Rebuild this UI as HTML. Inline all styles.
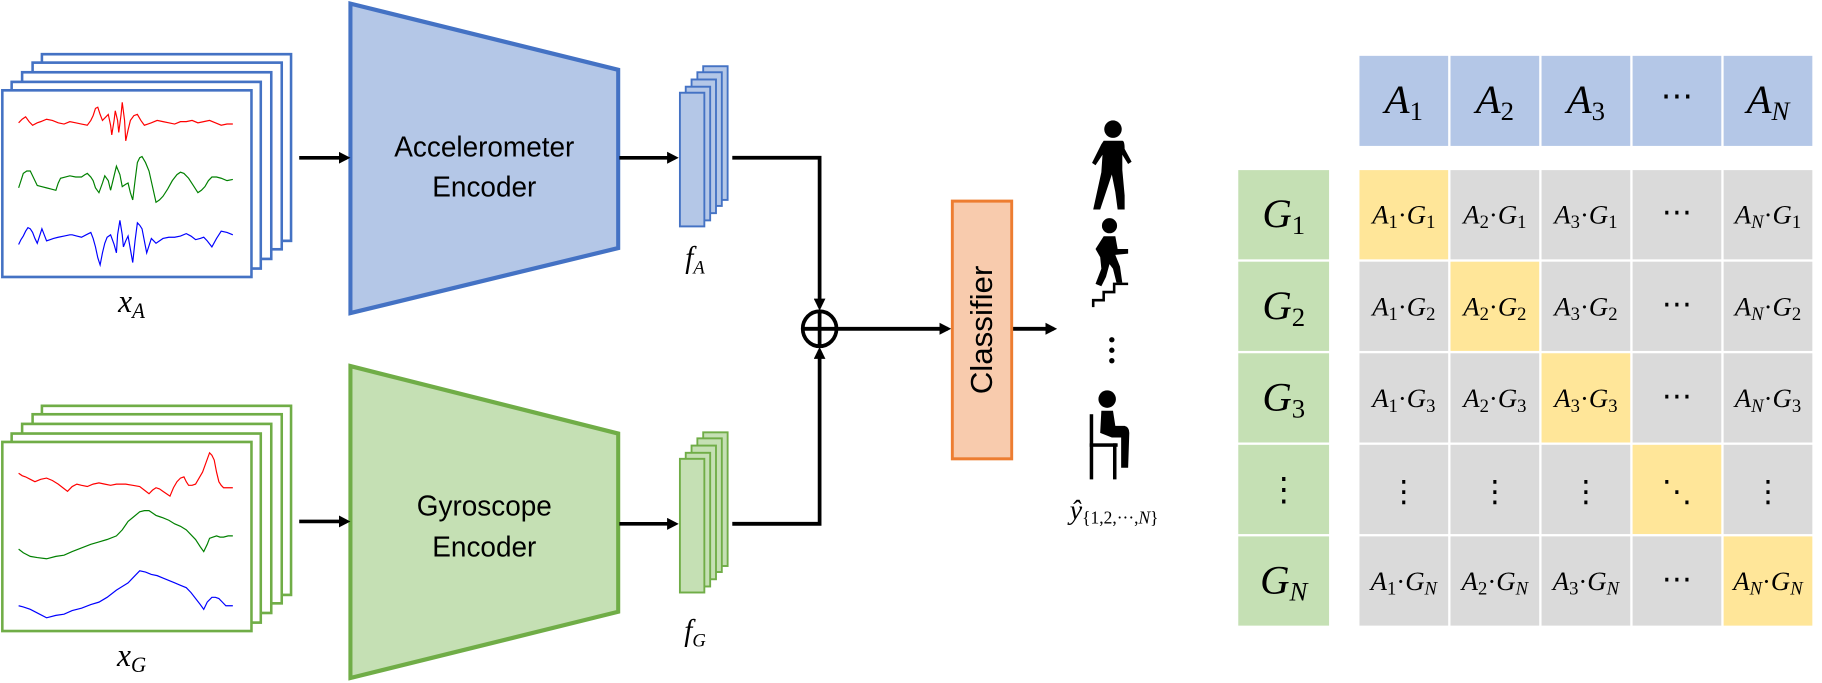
<!DOCTYPE html>
<html><head><meta charset="utf-8"><style>
html,body{margin:0;padding:0;background:#fff;}
svg{display:block;}
.m{font-family:"Liberation Serif",serif;font-style:italic;}
.s{font-family:"Liberation Sans",sans-serif;}
</style></head><body>
<svg width="1822" height="683" viewBox="0 0 1565 587" preserveAspectRatio="none" xmlns="http://www.w3.org/2000/svg">
<defs>
<marker id="ah" markerWidth="10" markerHeight="10" refX="7" refY="5" orient="auto" markerUnits="userSpaceOnUse">
<path d="M0,0 L10,5 L0,10 z" fill="#000"/></marker>
</defs>
<g transform="scale(1,1.035)">
<!-- accel frames -->
<g fill="#fff" stroke="#4472C4" stroke-width="2.2">
<rect x="36" y="45" width="214" height="155"/>
<rect x="28" y="52" width="214" height="155"/>
<rect x="19" y="60" width="214" height="155"/>
<rect x="10" y="68" width="214" height="155"/>
<rect x="2" y="75" width="214" height="155"/>
</g>
<g fill="none" stroke-width="1">
<polyline stroke="#ff0000" points="16,102 19,99 22,97 25,101 28,104 32,102 35,101 40,99 45,100 50,102 55,103 60,101 65,102 70,103 75,104 78,100 80,96 82,90 84,89 86,95 88,100 90,98 93,95 95,104 96,112 98,100 99,92 101,100 102,110 104,95 105,85 107,100 108,117 110,108 112,100 115,96 118,95 121,100 124,104 127,103 130,102 135,100 140,101 145,102 150,103 155,101 160,101 165,100 170,102 175,101 180,100 185,102 190,104 195,103 200,103"/>
<polyline stroke="#008000" points="16,156 18,150 20,144 23,142 26,142 29,148 32,154 36,155 40,156 44,157 48,158 50,152 52,148 56,147 60,146 65,147 70,147 73,145 75,144 78,147 80,150 82,156 85,160 88,152 90,146 93,150 95,158 98,146 100,138 103,145 105,155 108,153 110,152 112,160 114,166 116,150 118,135 120,131 122,130 125,135 128,142 131,155 134,168 137,166 140,163 144,157 148,150 152,145 155,143 158,144 162,148 166,154 170,160 173,158 176,155 179,150 182,147 186,147 190,148 195,150 200,149"/>
<polyline stroke="#0000ff" points="16,203 18,199 20,196 22,192 24,189 26,190 28,193 30,198 32,202 34,196 36,190 38,195 40,200 43,199 46,198 50,197 55,196 60,195 62,195 66,196 70,197 74,195 78,193 80,198 82,205 84,214 86,220 88,210 90,202 92,197 95,195 98,203 100,210 101,195 103,183 105,195 106,205 108,200 110,196 112,207 114,218 116,200 118,185 120,187 122,190 124,200 126,210 128,204 130,198 132,200 134,202 137,200 140,198 145,197 150,197 155,196 160,194 164,196 168,199 172,198 175,197 178,200 182,205 186,198 190,192 195,193 200,195"/>
</g>
<text class="m" x="113" y="259" font-size="27" text-anchor="middle">x<tspan font-size="18" dy="5">A</tspan></text>
<!-- gyro frames -->
<g fill="#fff" stroke="#70AD47" stroke-width="2.2">
<rect x="36" y="337" width="214" height="157"/>
<rect x="28" y="344" width="214" height="157"/>
<rect x="19" y="352" width="214" height="157"/>
<rect x="10" y="360" width="214" height="157"/>
<rect x="2" y="367" width="214" height="157"/>
</g>
<g fill="none" stroke-width="1">
<polyline stroke="#ff0000" points="16,393 19,395 22,396 26,398 30,400 35,398 40,397 45,399 50,402 54,405 58,408 62,404 66,402 70,403 75,404 80,402 85,401 90,402 95,403 100,402 108,402 114,403 120,404 124,407 128,410 131,407 134,405 137,406 140,408 143,410 146,412 149,405 152,400 155,397 158,396 160,400 162,403 165,403 168,402 171,397 174,392 177,384 180,376 182,378 184,382 186,392 188,400 190,403 192,405 196,405 200,405"/>
<polyline stroke="#008000" points="16,456 20,459 26,462 32,463 40,464 48,462 55,461 62,458 70,455 78,452 85,450 92,448 100,445 105,440 110,433 115,429 120,425 124,424 128,424 131,426 134,428 137,429 140,430 145,432 150,435 155,437 160,440 164,444 168,448 172,454 175,458 178,452 180,447 183,446 186,445 189,446 192,446 196,445 200,445"/>
<polyline stroke="#0000ff" points="16,503 20,504 26,506 32,509 40,513 48,511 55,510 62,507 70,505 78,502 85,500 92,496 100,490 105,487 110,484 115,479 120,474 125,475 130,477 135,478 140,480 145,482 150,484 155,486 160,488 164,492 168,497 172,502 175,506 178,500 182,496 185,496 188,497 191,500 194,503 197,503 200,503"/>
</g>
<text class="m" x="113" y="553" font-size="27" text-anchor="middle">x<tspan font-size="18" dy="5">G</tspan></text>
<!-- encoders -->
<polygon points="301,3 531,58 531,206 301,260" fill="#B4C7E7" stroke="#4472C4" stroke-width="3.5"/>
<text class="s" x="416" y="130" font-size="24" text-anchor="middle">Accelerometer</text>
<text class="s" x="416" y="163" font-size="24" text-anchor="middle">Encoder</text>
<polygon points="301,304 531,360 531,508 301,563" fill="#C5E0B4" stroke="#70AD47" stroke-width="3.5"/>
<text class="s" x="416" y="428" font-size="24" text-anchor="middle">Gyroscope</text>
<text class="s" x="416" y="462" font-size="24" text-anchor="middle">Encoder</text>
<!-- arrows in -->
<g stroke="#000" stroke-width="3" fill="none">
<line x1="257" y1="131" x2="298" y2="131" marker-end="url(#ah)"/>
<line x1="257" y1="433" x2="298" y2="433" marker-end="url(#ah)"/>
<line x1="532" y1="131" x2="580" y2="131" marker-end="url(#ah)"/>
<line x1="532" y1="435" x2="580" y2="435" marker-end="url(#ah)"/>
</g>
<!-- feature maps -->
<g fill="#B4C7E7" stroke="#4472C4" stroke-width="1.6">
<rect x="604" y="55" width="21" height="111"/>
<rect x="599" y="60" width="21" height="111"/>
<rect x="594" y="66" width="21" height="111"/>
<rect x="589" y="72" width="21" height="111"/>
<rect x="584" y="77" width="21" height="111"/>
</g>
<text class="m" x="597" y="222" font-size="25" text-anchor="middle">f<tspan font-size="16" dy="5">A</tspan></text>
<g fill="#C5E0B4" stroke="#70AD47" stroke-width="1.6">
<rect x="604" y="359" width="21" height="111"/>
<rect x="599" y="364" width="21" height="111"/>
<rect x="594" y="370" width="21" height="111"/>
<rect x="589" y="376" width="21" height="111"/>
<rect x="584" y="381" width="21" height="111"/>
</g>
<text class="m" x="597" y="532" font-size="25" text-anchor="middle">f<tspan font-size="16" dy="5">G</tspan></text>
<!-- fusion -->
<g stroke="#000" stroke-width="3.2" fill="none">
<polyline points="629,131 704,131 704,255" marker-end="url(#ah)"/>
<polyline points="629,435 704,435 704,291" marker-end="url(#ah)"/>
<circle cx="704" cy="273" r="14.5"/>
<line x1="689.5" y1="273" x2="718.5" y2="273"/>
<line x1="704" y1="258.5" x2="704" y2="287.5"/>
<line x1="718" y1="273" x2="814" y2="273" marker-end="url(#ah)"/>
<line x1="869" y1="273" x2="905" y2="273" marker-end="url(#ah)"/>
</g>
<rect x="818" y="167" width="51" height="214" fill="#F8CBAD" stroke="#ED7D31" stroke-width="2.5"/>
<text class="s" x="0" y="0" font-size="26" text-anchor="middle" transform="translate(852,274) rotate(-90)">Classifier</text>
</g>
<!-- icons -->
<g fill="#000">
<circle cx="956" cy="111" r="7.5"/>
<path d="M948,121 L964,121 Q966,121 966,128 L972,139 L969,141 L964,133 L964,146 L966,168 L966,180 L960,180 L958,165 L955,150 L950,165 L945,180 L939,180 L946,148 L947,133 L941,142 L938,140 L946,124 Z"/>
<circle cx="953" cy="194" r="6.5"/>
<path d="M948,203 L958,203 L960,214 L969,214 L969,218 L958,219 L962,229 L964,243 L959,243 L956,231 L953,227 L950,238 L946,246 L941,244 L946,231 L945,221 L941,214 Z"/>
<polyline points="939,264 939,258 948,258 948,251 957,251 957,244 969,244" fill="none" stroke="#000" stroke-width="2.2"/>
<circle cx="955" cy="292" r="2.3"/><circle cx="955" cy="301" r="2.3"/><circle cx="955" cy="310" r="2.3"/>
<circle cx="951" cy="343" r="7.5"/>
<path d="M946,353 L956,353 L958,366 L966,366 Q970,367 970,372 L969,402 L963,402 L963,376 L955,376 L945,372 Z"/>
<rect x="936" y="356" width="3" height="56"/>
<rect x="936" y="381" width="24" height="3"/>
<rect x="956" y="381" width="3" height="31"/>
</g>
<text class="m" x="957" y="446" font-size="24" text-anchor="middle">ŷ<tspan font-size="15" dy="4" font-style="normal">{1,2,···,</tspan><tspan font-size="15">N</tspan><tspan font-size="15" font-style="normal">}</tspan></text>
<!-- grid header -->
<g fill="#B4C7E7">
<rect x="1167.7" y="48" width="76.2" height="77.4"/>
<rect x="1245.9" y="48" width="76.2" height="77.4"/>
<rect x="1324.1" y="48" width="76.2" height="77.4"/>
<rect x="1402.3" y="48" width="76.2" height="77.4"/>
<rect x="1480.5" y="48" width="76.2" height="77.4"/>
</g>
<g class="m" font-size="35" text-anchor="middle">
<text x="1205.8" y="97">A<tspan font-size="23" dy="6" font-style="normal">1</tspan></text>
<text x="1284" y="97">A<tspan font-size="23" dy="6" font-style="normal">2</tspan></text>
<text x="1362.2" y="97">A<tspan font-size="23" dy="6" font-style="normal">3</tspan></text>
<text x="1440.4" y="92" font-style="normal" font-size="28">⋯</text>
<text x="1518.6" y="97">A<tspan font-size="23" dy="6">N</tspan></text>
</g>
<!-- green column -->
<g fill="#C5E0B4">
<rect x="1063.6" y="146.2" width="78" height="76.7"/>
<rect x="1063.6" y="224.9" width="78" height="76.7"/>
<rect x="1063.6" y="303.6" width="78" height="76.7"/>
<rect x="1063.6" y="382.3" width="78" height="76.7"/>
<rect x="1063.6" y="461" width="78" height="76.7"/>
</g>
<g class="m" font-size="35" text-anchor="middle">
<text x="1102.7" y="195">G<tspan font-size="23" dy="6" font-style="normal">1</tspan></text>
<text x="1102.7" y="274">G<tspan font-size="23" dy="6" font-style="normal">2</tspan></text>
<text x="1102.7" y="353">G<tspan font-size="23" dy="6" font-style="normal">3</tspan></text>
<text x="1102.7" y="430" font-style="normal" font-size="28">⋮</text>
<text x="1102.7" y="510">G<tspan font-size="23" dy="6">N</tspan></text>
</g>
<!-- cells -->
<g fill="#DADADA">
<rect x="1167.7" y="146.2" width="76.2" height="76.7" fill="#FFE699"/>
<rect x="1245.9" y="146.2" width="76.2" height="76.7"/>
<rect x="1324.1" y="146.2" width="76.2" height="76.7"/>
<rect x="1402.3" y="146.2" width="76.2" height="76.7"/>
<rect x="1480.5" y="146.2" width="76.2" height="76.7"/>
<rect x="1167.7" y="224.9" width="76.2" height="76.7"/>
<rect x="1245.9" y="224.9" width="76.2" height="76.7" fill="#FFE699"/>
<rect x="1324.1" y="224.9" width="76.2" height="76.7"/>
<rect x="1402.3" y="224.9" width="76.2" height="76.7"/>
<rect x="1480.5" y="224.9" width="76.2" height="76.7"/>
<rect x="1167.7" y="303.6" width="76.2" height="76.7"/>
<rect x="1245.9" y="303.6" width="76.2" height="76.7"/>
<rect x="1324.1" y="303.6" width="76.2" height="76.7" fill="#FFE699"/>
<rect x="1402.3" y="303.6" width="76.2" height="76.7"/>
<rect x="1480.5" y="303.6" width="76.2" height="76.7"/>
<rect x="1167.7" y="382.3" width="76.2" height="76.7"/>
<rect x="1245.9" y="382.3" width="76.2" height="76.7"/>
<rect x="1324.1" y="382.3" width="76.2" height="76.7"/>
<rect x="1402.3" y="382.3" width="76.2" height="76.7" fill="#FFE699"/>
<rect x="1480.5" y="382.3" width="76.2" height="76.7"/>
<rect x="1167.7" y="461" width="76.2" height="76.7"/>
<rect x="1245.9" y="461" width="76.2" height="76.7"/>
<rect x="1324.1" y="461" width="76.2" height="76.7"/>
<rect x="1402.3" y="461" width="76.2" height="76.7"/>
<rect x="1480.5" y="461" width="76.2" height="76.7" fill="#FFE699"/>
</g>
<g class="m" font-size="23" text-anchor="middle">
<text x="1205.8" y="192">A<tspan font-size="16" dy="4" font-style="normal">1</tspan><tspan dy="-4" font-style="normal">·</tspan>G<tspan font-size="16" dy="4" font-style="normal">1</tspan></text>
<text x="1284" y="192">A<tspan font-size="16" dy="4" font-style="normal">2</tspan><tspan dy="-4" font-style="normal">·</tspan>G<tspan font-size="16" dy="4" font-style="normal">1</tspan></text>
<text x="1362.2" y="192">A<tspan font-size="16" dy="4" font-style="normal">3</tspan><tspan dy="-4" font-style="normal">·</tspan>G<tspan font-size="16" dy="4" font-style="normal">1</tspan></text>
<text x="1518.6" y="192">A<tspan font-size="16" dy="4">N</tspan><tspan dy="-4" font-style="normal">·</tspan>G<tspan font-size="16" dy="4" font-style="normal">1</tspan></text>
<text x="1205.8" y="271">A<tspan font-size="16" dy="4" font-style="normal">1</tspan><tspan dy="-4" font-style="normal">·</tspan>G<tspan font-size="16" dy="4" font-style="normal">2</tspan></text>
<text x="1284" y="271">A<tspan font-size="16" dy="4" font-style="normal">2</tspan><tspan dy="-4" font-style="normal">·</tspan>G<tspan font-size="16" dy="4" font-style="normal">2</tspan></text>
<text x="1362.2" y="271">A<tspan font-size="16" dy="4" font-style="normal">3</tspan><tspan dy="-4" font-style="normal">·</tspan>G<tspan font-size="16" dy="4" font-style="normal">2</tspan></text>
<text x="1518.6" y="271">A<tspan font-size="16" dy="4">N</tspan><tspan dy="-4" font-style="normal">·</tspan>G<tspan font-size="16" dy="4" font-style="normal">2</tspan></text>
<text x="1205.8" y="350">A<tspan font-size="16" dy="4" font-style="normal">1</tspan><tspan dy="-4" font-style="normal">·</tspan>G<tspan font-size="16" dy="4" font-style="normal">3</tspan></text>
<text x="1284" y="350">A<tspan font-size="16" dy="4" font-style="normal">2</tspan><tspan dy="-4" font-style="normal">·</tspan>G<tspan font-size="16" dy="4" font-style="normal">3</tspan></text>
<text x="1362.2" y="350">A<tspan font-size="16" dy="4" font-style="normal">3</tspan><tspan dy="-4" font-style="normal">·</tspan>G<tspan font-size="16" dy="4" font-style="normal">3</tspan></text>
<text x="1518.6" y="350">A<tspan font-size="16" dy="4">N</tspan><tspan dy="-4" font-style="normal">·</tspan>G<tspan font-size="16" dy="4" font-style="normal">3</tspan></text>
<text x="1205.8" y="507">A<tspan font-size="16" dy="4" font-style="normal">1</tspan><tspan dy="-4" font-style="normal">·</tspan>G<tspan font-size="16" dy="4">N</tspan></text>
<text x="1284" y="507">A<tspan font-size="16" dy="4" font-style="normal">2</tspan><tspan dy="-4" font-style="normal">·</tspan>G<tspan font-size="16" dy="4">N</tspan></text>
<text x="1362.2" y="507">A<tspan font-size="16" dy="4" font-style="normal">3</tspan><tspan dy="-4" font-style="normal">·</tspan>G<tspan font-size="16" dy="4">N</tspan></text>
<text x="1518.6" y="507">A<tspan font-size="16" dy="4">N</tspan><tspan dy="-4" font-style="normal">·</tspan>G<tspan font-size="16" dy="4">N</tspan></text>
</g>
<g font-family="'DejaVu Sans',sans-serif" font-size="26" text-anchor="middle">
<text x="1440.4" y="191">⋯</text>
<text x="1440.4" y="270">⋯</text>
<text x="1440.4" y="349">⋯</text>
<text x="1440.4" y="506">⋯</text>
<text x="1205.8" y="431">⋮</text>
<text x="1284" y="431">⋮</text>
<text x="1362.2" y="431">⋮</text>
<text x="1440.4" y="431">⋱</text>
<text x="1518.6" y="431">⋮</text>
</g>
</svg>
</body></html>
